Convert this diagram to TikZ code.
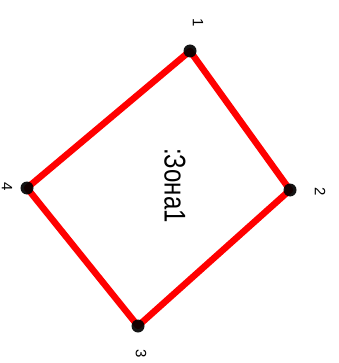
\documentclass[tikz,border=0pt]{standalone}
\usepackage{fontspec}
\setmainfont{Liberation Sans}
\begin{document}
\begin{tikzpicture}[x=1pt,y=-1pt,
  edge/.style={draw=red,line width=6.5pt,line cap=round,line join=round},
  vdot/.style={circle,fill=black,fill opacity=0.92,inner sep=0pt,minimum size=13pt},
  vlabel/.style={rotate=-90,font=\fontsize{15}{15}\selectfont,inner sep=0pt},
  zone/.style={rotate=-90,font=\fontsize{30}{30}\selectfont,inner sep=0pt}]
\useasboundingbox (0,0) rectangle (338,363);
\coordinate (v1) at (190,51);
\coordinate (v2) at (290,190);
\coordinate (v3) at (138,326);
\coordinate (v4) at (27,188);
\draw[edge] (v1) -- (v2) -- (v3) -- (v4) -- cycle;
\node[vdot] (d1) at (v1) {};
\node[vdot] (d2) at (v2) {};
\node[vdot] (d3) at (v3) {};
\node[vdot] (d4) at (v4) {};
\node[vlabel] (l1) at (198,23) {1};
\node[vlabel] (l2) at (320,192) {2};
\node[vlabel] (l3) at (141,354) {3};
\node[vlabel] (l4) at (7,187) {4};
\node[zone] (z) at (175,185.5) {\scalebox{0.8}[1]{:Зона1}};
\end{tikzpicture}
\end{document}
